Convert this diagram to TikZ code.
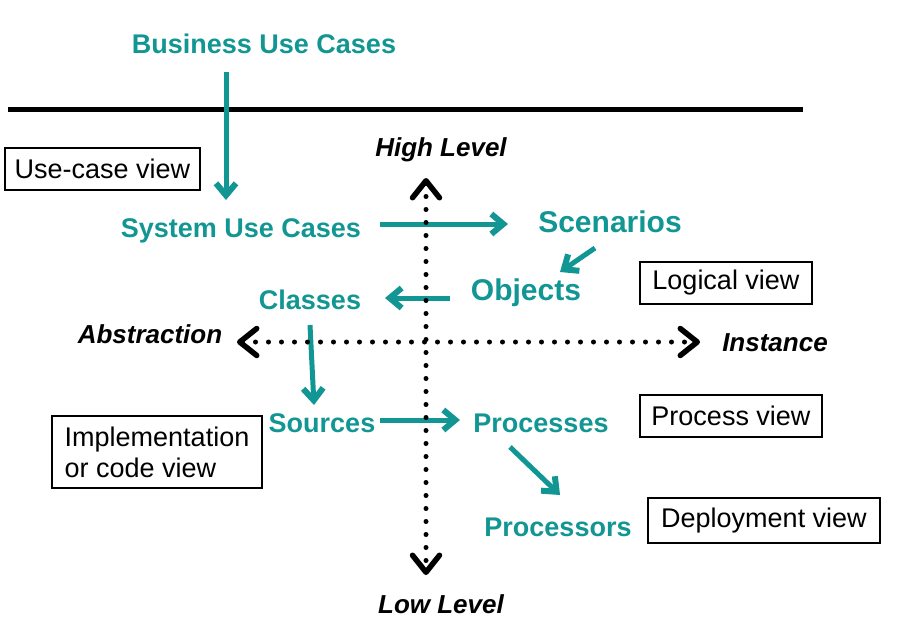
\documentclass[tikz,border=0pt]{standalone}
\usepackage{fontspec}
\setmainfont{Liberation Sans}
\usetikzlibrary{arrows.meta}
\definecolor{viewteal}{RGB}{18,150,148}
\tikzset{
  stage/.style={text=viewteal, font=\bfseries\fontsize{27}{30}\selectfont, inner sep=0pt},
  bigstage/.style={stage, font=\bfseries\fontsize{30}{33}\selectfont},
  axislabel/.style={font=\bfseries\itshape\fontsize{26}{30}\selectfont, inner sep=0pt},
  viewbox/.style={draw, line width=2pt, font=\fontsize{27}{31}\selectfont, inner sep=0pt, align=left},
  flow/.style={draw=viewteal, line width=5pt,
    -{Straight Barb[length=12pt,width=20pt,line width=6pt]}},
  axis/.style={line width=5pt, line cap=round, dash pattern=on 0pt off 13pt,
    {Straight Barb[length=17pt,width=27pt,line width=5.5pt,round]}-{Straight Barb[length=17pt,width=27pt,line width=5.5pt,round]}}
}
\begin{document}
\begin{tikzpicture}[x=1pt,y=-1pt]
  \useasboundingbox (0,0) rectangle (905,633);

  % Stages of the model, from business to deployment.
  \node[stage] (business) at (264,44) {Business Use Cases};
  \node[stage] (system) at (241,231) {System Use Cases};
  \node[bigstage] (scenarios) at (610,222) {Scenarios};
  \node[bigstage] (objects) at (526,293) {Objects};
  \node[stage] (classes) at (310,300) {Classes};
  \node[stage] (sources) at (322,423) {Sources};
  \node[stage] (processes) at (541,423) {Processes};
  \node[stage] (processors) at (558,527) {Processors};

  % Labels at the ends of the two axes.
  \node[axislabel] (high) at (441,150) {High Level};
  \node[axislabel] (low) at (441,604) {Low Level};
  \node[axislabel] (abstraction) at (150,334) {Abstraction};
  \node[axislabel] (instance) at (775,343) {Instance};

  % The views, each in a box.
  \node[viewbox, minimum width=195pt, minimum height=42pt] (usecaseview) at (102.5,169) {Use-case view};
  \node[viewbox, minimum width=172pt, minimum height=42pt] (logicalview) at (726,283) {Logical view};
  \node[viewbox, minimum width=182pt, minimum height=42pt] (processview) at (731,416) {Process view};
  \node[viewbox, minimum width=210pt, minimum height=72pt] (implview) at (157,452) {Implementation\\or code view};
  \node[viewbox, minimum width=232pt, minimum height=45pt] (deployview) at (764,520.5) {Deployment view};

  % The business boundary.
  \draw[line width=5pt] (8,109) -- (803,109);

  % Flow from one stage to the next.
  \draw[flow] ([shift={(-38,28)}]business.center) -- ([shift={(-15,-31)}]system.center);
  \draw[flow] ([shift={(139,-7)}]system.center) -- ([shift={(-102,2)}]scenarios.center);
  \draw[flow] ([shift={(-15,26)}]scenarios.center) -- ([shift={(34,-21)}]objects.center);
  \draw[flow] ([shift={(-76,5)}]objects.center) -- ([shift={(75,-2)}]classes.center);
  \draw[flow] ([shift={(0,25)}]classes.center) -- ([shift={(-8,-18)}]sources.center);
  \draw[flow] ([shift={(58,-3)}]sources.center) -- ([shift={(-81,-3)}]processes.center);
  \draw[flow] ([shift={(-31,24)}]processes.center) -- ([shift={(2,-32)}]processors.center);

  % Dotted axes.
  \draw[axis] ([shift={(-15,28)}]high.center) -- ([shift={(-15,-29)}]low.center);
  \draw[axis] ([shift={(87,8)}]abstraction.center) -- ([shift={(-75,-1)}]instance.center);
\end{tikzpicture}
\end{document}
